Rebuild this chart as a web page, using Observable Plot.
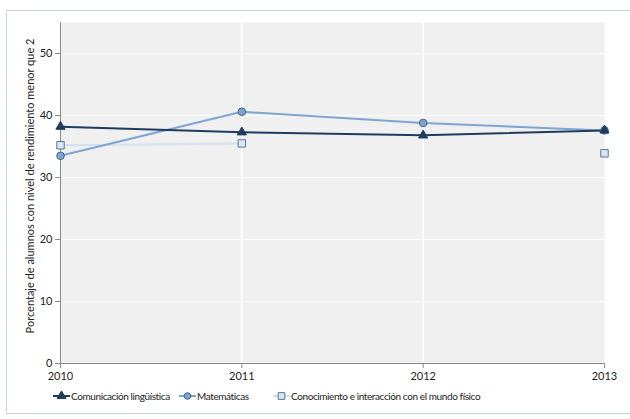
<!DOCTYPE html>
<html><head><meta charset="utf-8">
<script src="https://cdn.jsdelivr.net/npm/d3@7"></script>
<script src="https://cdn.jsdelivr.net/npm/@observablehq/plot@0.6"></script>
<style>
body{margin:0;background:#fff;font-family:Lato,"Open Sans",sans-serif;}
#wrap{position:relative;width:630px;height:419px;overflow:hidden;}
#border{position:absolute;left:6px;top:10px;width:640px;height:404px;border:1px solid #c9d6ea;box-sizing:border-box;}
#chart{position:absolute;left:0;top:0;}
#legend{position:absolute;left:0;top:390px;width:630px;height:16px;font-size:10px;letter-spacing:-0.4px;color:#222;}
.item{position:absolute;top:0;display:flex;align-items:center;white-space:nowrap;}
.item svg{margin-right:1px;}
</style></head>
<body><div id="wrap"><div id="border"></div><div id="chart"></div><div id="legend"></div></div>
<script>
const years = [2010, 2011, 2012, 2013];
const seriesNames = ["Comunicación lingüística", "Matemáticas", "Conocimiento e interacción con el mundo físico"];
const comunicacion = [38.2, 37.3, 36.8, 37.6];
const matematicas = [33.5, 40.6, 38.8, 37.6];
const conocimiento = [35.2, 35.5, null, 33.9];
const yTicks = [0, 10, 20, 30, 40, 50];
const yLabel = "Porcentaje de alumnos con nivel de rendimiento menor que 2";

const styles = [
  {line: "#1f3b5e", fill: "#1f3b5e", stroke: "#1f3b5e", symbol: "triangle", r: 3.4},
  {line: "#7fa4d0", fill: "#7fa4d0", stroke: "#3d6690", symbol: "circle", r: 3.8},
  {line: "#d3e0f0", fill: "#dce6f2", stroke: "#55779e", symbol: "square", r: 4.2}
];
const seriesVals = [comunicacion, matematicas, conocimiento];
const data = [];
seriesNames.forEach((s, i) => years.forEach((y, j) => data.push({series: s, idx: i, year: y, value: seriesVals[i][j]})));

const marks = [
  Plot.frame({fill: "#f0f0f0", stroke: null}),
  Plot.gridY(yTicks.slice(1), {stroke: "#ffffff", strokeOpacity: 1, strokeWidth: 1.2}),
  Plot.gridX([2011, 2012], {stroke: "#ffffff", strokeOpacity: 1, strokeWidth: 1.5}),
  Plot.ruleX([2010], {stroke: "#8a8a8a"}),
  Plot.ruleY([0], {stroke: "#8a8a8a"}),
  Plot.axisY({ticks: yTicks, tickSize: 5, tickPadding: 3, stroke: "#8a8a8a", fontSize: 11, label: null, color: "#222"}),
  Plot.axisX({ticks: years, tickFormat: d => String(d), tickSize: 5, tickPadding: 4, stroke: "#8a8a8a", fontSize: 11, label: null, color: "#222"}),
  Plot.text([yLabel], {frameAnchor: "left", dx: -30, dy: -7, rotate: -90, fontSize: 11, letterSpacing: "-0.1px", fill: "#222", textAnchor: "middle"})
];
[2, 1, 0].forEach(i => {
  const d = data.filter(r => r.idx === i);
  const st = styles[i];
  marks.push(Plot.line(d, {x: "year", y: "value", stroke: st.line, strokeWidth: 2}));
});
[2, 1, 0].forEach(i => {
  const d = data.filter(r => r.idx === i && r.value != null);
  const st = styles[i];
  marks.push(Plot.dot(d, {x: "year", y: "value", symbol: () => st.symbol, r: st.r, fill: st.fill, stroke: st.stroke, strokeWidth: 1}));
});

const chart = Plot.plot({
  width: 630, height: 385,
  marginLeft: 60, marginRight: 26, marginTop: 22, marginBottom: 22,
  style: {fontFamily: "Lato, 'Open Sans', sans-serif", background: "transparent", overflow: "visible"},
  x: {domain: [2010, 2013]},
  y: {domain: [0, 55]},
  marks
});
document.getElementById("chart").appendChild(chart);

// legend
const legend = document.getElementById("legend");
const legendX = [53, 179, 273];
seriesNames.forEach((s, i) => {
  const st = styles[i];
  const div = document.createElement("div");
  div.className = "item";
  div.style.left = legendX[i] + "px";
  const sw = d3.create("svg").attr("width", 17).attr("height", 12);
  sw.append("line").attr("x1", 0).attr("x2", 17).attr("y1", 6).attr("y2", 6).attr("stroke", st.line).attr("stroke-width", 2);
  sw.append("path").attr("transform", "translate(8.5,6)")
    .attr("d", d3.symbol(st.symbol === "triangle" ? d3.symbolTriangle : st.symbol === "circle" ? d3.symbolCircle : d3.symbolSquare, st.symbol === "square" ? 45 : 34)())
    .attr("fill", st.fill).attr("stroke", st.stroke);
  div.appendChild(sw.node());
  const t = document.createElement("span");
  t.textContent = s;
  div.appendChild(t);
  legend.appendChild(div);
});
</script></body></html>
